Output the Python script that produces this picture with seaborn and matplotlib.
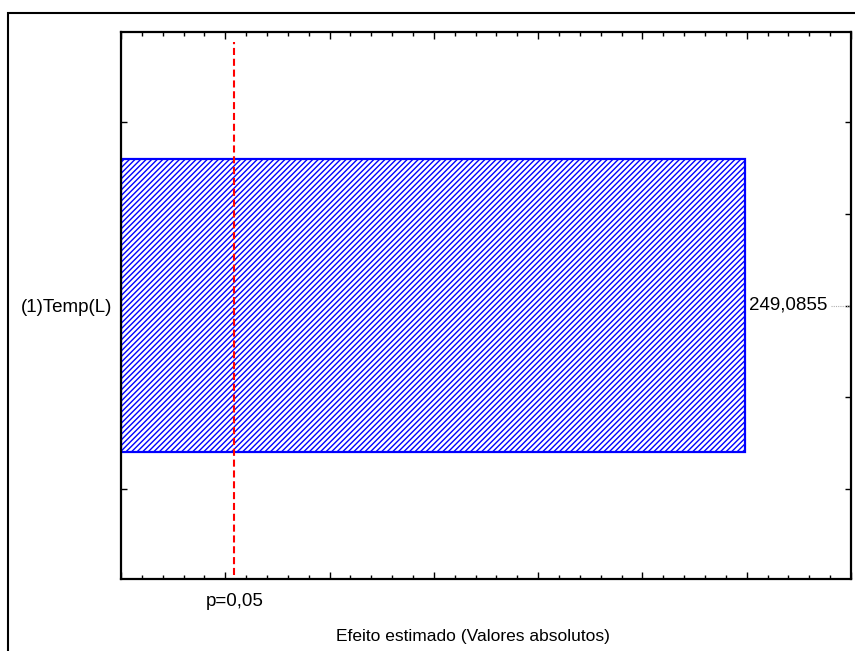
import numpy as np
import pandas as pd
import matplotlib
matplotlib.use("Agg")
import matplotlib.pyplot as plt
import matplotlib.transforms as mtransforms
from matplotlib.patches import Rectangle
import seaborn as sns

# Pareto chart of standardized effects
effects = ["(1)Temp(L)"]
effect_values = [249.0855]
t_critical = 4.303          # p = 0.05 reference line
p_label = "p=0,05"
x_label = "Efeito estimado (Valores absolutos)"
x_min, x_max = -50, 300

sns.set_theme(style="white")
plt.rcParams["font.family"] = ["Liberation Sans", "DejaVu Sans"]
plt.rcParams["hatch.linewidth"] = 1.0
plt.rcParams["text.color"] = "black"
plt.rcParams["axes.labelcolor"] = "black"
plt.rcParams["xtick.color"] = "black"
plt.rcParams["ytick.color"] = "black"

fig = plt.figure(figsize=(8.55, 6.51), dpi=100)
ax = fig.add_axes([121 / 855, 1 - 579 / 651, 730 / 855, 547 / 651])

df = pd.DataFrame({"effect": effects, "value": effect_values})
sns.barplot(data=df, x="value", y="effect", orient="h", ax=ax,
            color="white", edgecolor="#0000ff", linewidth=1.6,
            hatch="//////", width=1.6, saturation=1)

# bars start from the left edge of the value axis
for patch, v in zip(ax.patches, effect_values):
    patch.set_x(x_min)
    patch.set_width(v - x_min)
    patch.set_facecolor("white")

ax.set_xlim(x_min, x_max)
ax.set_ylim(1.49, -1.49)

# axes styling
for s in ax.spines.values():
    s.set_visible(True)
    s.set_color("black")
    s.set_linewidth(1.6)

ax.set_xticks(np.arange(x_min, x_max + 1, 50))
ax.set_xticks(np.arange(x_min, x_max + 1, 10), minor=True)
ax.set_xticklabels([])
ax.set_yticks([-1, 0, 1])
ax.set_yticklabels(["", effects[0], ""], fontsize=13.5, color="black")
ax.set_yticks([-0.5, 0.5], minor=True)
ax.tick_params(axis="x", which="major", direction="in", length=5, width=1,
               top=True, bottom=True, color="black")
ax.tick_params(axis="x", which="minor", direction="in", length=3, width=1,
               top=True, bottom=True, color="black")
ax.tick_params(axis="y", which="major", direction="in", length=4, width=1,
               left=True, right=True, pad=6, color="black")
ax.tick_params(axis="y", which="minor", direction="in", length=4, width=1,
               left=False, right=True, color="black")
ax.set_xlabel("")
ax.set_ylabel("")

# significance threshold
ax.axvline(t_critical, ymin=0.007, ymax=0.982, color="#ff0000",
           linewidth=1.5, dashes=(3.4, 1.8))
blend = mtransforms.blended_transform_factory(ax.transData, ax.transAxes)
ax.annotate(p_label, xy=(t_critical, 0), xycoords=blend,
            xytext=(0, -16), textcoords="offset points",
            ha="center", va="center", fontsize=13.5, color="black")

# value labels with a leader to the right axis
for i, v in enumerate(effect_values):
    ax.annotate(f"{v:.4f}".replace(".", ","), xy=(v, i),
                xytext=(3, 0), textcoords="offset points",
                ha="left", va="center", fontsize=13.5, color="black")
    lead = mtransforms.blended_transform_factory(ax.transAxes, ax.transData)
    ax.plot([0.973, 1.0], [i, i], transform=lead, color="#b0b0b0",
            linewidth=0.8, linestyle=(0, (1, 1)), clip_on=False)

fig.text(473 / 855, 1 - 637 / 651, x_label, ha="center", va="center",
         fontsize=12.5, color="black")

# outer frame of the graph window
fig.add_artist(Rectangle((8 / 855, -0.2), 2.0, 1 - 13 / 651 + 0.2,
                         transform=fig.transFigure, fill=False,
                         edgecolor="black", linewidth=1.5))

fig.savefig("out.png", dpi=100)
